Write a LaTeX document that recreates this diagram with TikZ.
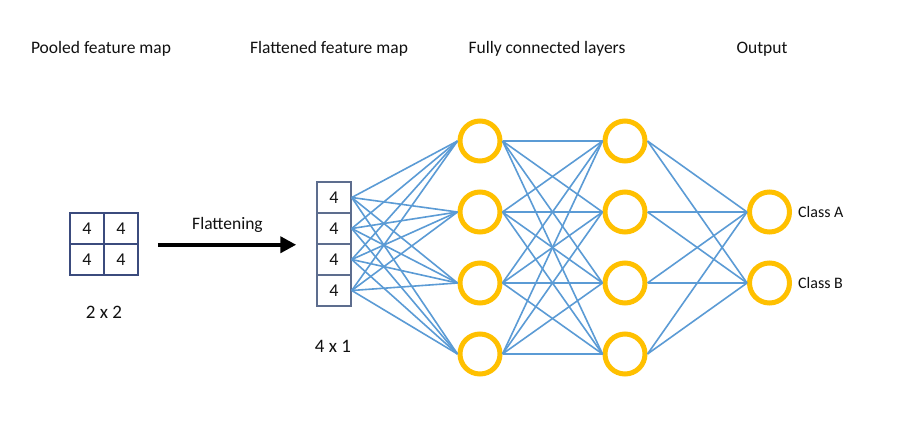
\documentclass[tikz,border=0pt]{standalone}
\usepackage{fontspec}
\setmainfont{Carlito}
\usetikzlibrary{
  positioning,
  arrows.meta,
}
\definecolor{gridCol}{HTML}{3B4B7D}
\definecolor{colCol}{HTML}{5D6D8E}
\definecolor{ringCol}{HTML}{FFC000}
\definecolor{linkCol}{HTML}{5B9BD5}
\definecolor{textCol}{HTML}{111111}
\tikzset{
  cell/.style={
    rectangle, draw=gridCol, line width=1.5pt, inner sep=0pt,
    minimum width=34pt, minimum height=31pt,
    font=\fontsize{18}{20}\selectfont, text=textCol,
  },
  fcell/.style={
    cell, draw=colCol,
  },
  neuron/.style={
    circle, draw=ringCol, line width=5pt, inner sep=0pt, minimum size=40pt,
  },
  link/.style={linkCol, line width=1.6pt},
  flatarrow/.style={-{Triangle[length=16pt,width=16pt]}, line width=4.5pt, black},
  heading/.style={font=\fontsize{17.5}{20}\selectfont, text=textCol, anchor=base},
  dimlabel/.style={font=\fontsize{19}{22}\selectfont, text=textCol, anchor=base},
  classlabel/.style={font=\fontsize{16}{18}\selectfont, text=textCol, inner sep=0pt},
}

\begin{document}
\begin{tikzpicture}[x=1pt, y=-1pt]

  \useasboundingbox[fill=white] (0,0) rectangle (903,426);

  % Headings
  \node[heading] (hpool) at (101, 53) {Pooled feature map};
  \node[heading] (hflat) at (329, 53) {Flattened feature map};
  \node[heading] (hfc) at (547, 53) {Fully connected layers};
  \node[heading] (hout) at (762, 53) {Output};

  % Pooled map
  \node[cell] (p11) at (87, 228.5) {4};
  \node[cell] (p12) at (121, 228.5) {4};
  \node[cell] (p21) at (87, 259.5) {4};
  \node[cell] (p22) at (121, 259.5) {4};
  \node[dimlabel] (psize) at (104, 318) {2 x 2};

  % Flattened column
  \node[fcell] (f1) at (334, 197.5) {4};
  \node[fcell] (f2) at (334, 228.5) {4};
  \node[fcell] (f3) at (334, 259.5) {4};
  \node[fcell] (f4) at (334, 290.5) {4};
  \node[dimlabel] (fsize) at (333, 352) {4 x 1};

  \draw[flatarrow, shorten <=19pt, shorten >=20pt] (p12.south east) -- (f2.south west)
    node[midway, above=7pt, font=\fontsize{17.5}{20}\selectfont, text=textCol] (flab) {Flattening};

  % Fully connected layers
  \node[neuron] (h1) at (480, 141) {};
  \node[neuron] (h2) at (480, 212) {};
  \node[neuron] (h3) at (480, 283) {};
  \node[neuron] (h4) at (480, 354) {};
  \node[neuron] (g1) at (625, 141) {};
  \node[neuron] (g2) at (625, 212) {};
  \node[neuron] (g3) at (625, 283) {};
  \node[neuron] (g4) at (625, 354) {};

  % Output
  \node[neuron] (o1) at (769.5, 212) {};
  \node[neuron] (o2) at (769.5, 283) {};
  \node[classlabel, right=6pt of o1] (ca) {Class A};
  \node[classlabel, right=6pt of o2] (cb) {Class B};

  % Links
  \foreach \i in {1,...,4}
    \foreach \j in {1,...,4} {
      \draw[link] (f\i.east) -- (h\j.west);
      \draw[link] (h\i.east) -- (g\j.west);
    }
  \foreach \i in {1,...,4}
    \foreach \j in {1,2}
      \draw[link] (g\i.east) -- (o\j.west);

\end{tikzpicture}
\end{document}
